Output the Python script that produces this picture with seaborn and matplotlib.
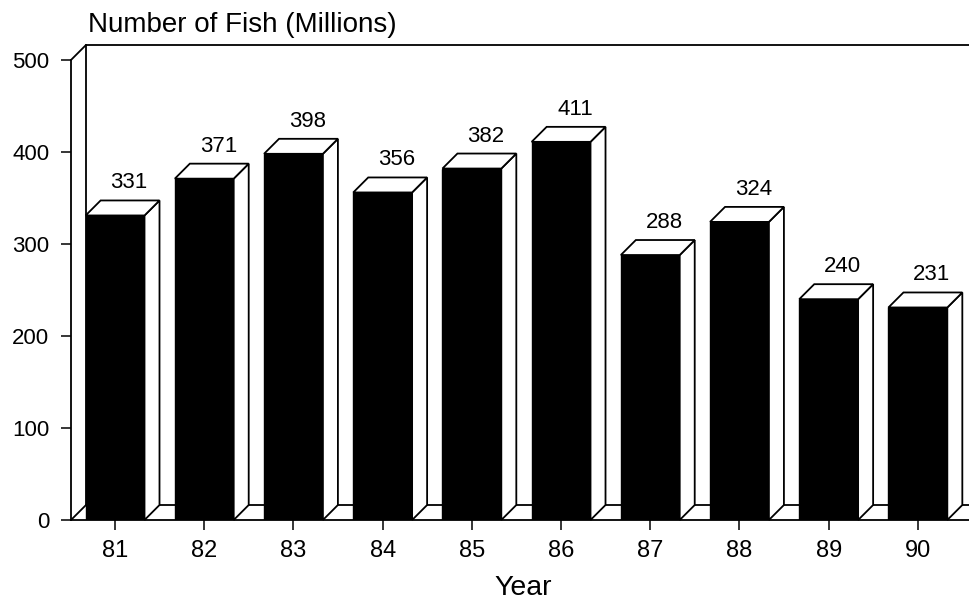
import matplotlib
matplotlib.use("Agg")
import matplotlib.pyplot as plt
from matplotlib.patches import Polygon
import seaborn as sns
import pandas as pd

years = ["81", "82", "83", "84", "85", "86", "87", "88", "89", "90"]
fish = [331, 371, 398, 356, 382, 411, 288, 324, 240, 231]
y_ticks = [0, 100, 200, 300, 400, 500]
title = "Number of Fish (Millions)"
xlabel = "Year"

sns.set_theme(style="white")
plt.rcParams["font.family"] = ["Liberation Sans", "DejaVu Sans"]
plt.rcParams["text.color"] = "black"
plt.rcParams["xtick.color"] = "black"
plt.rcParams["ytick.color"] = "black"
plt.rcParams["axes.labelcolor"] = "black"

W, H, DPI = 969, 600, 100
fig = plt.figure(figsize=(W / DPI, H / DPI), dpi=DPI)
fig.patch.set_facecolor("white")

# axes placement in pixels
left_px, right_px, base_px, top_px = 71, 969, 520, 40
ax = fig.add_axes([left_px / W, (H - base_px) / H,
                   (right_px - left_px) / W, (base_px - top_px) / H])
ax.set_facecolor("white")

df = pd.DataFrame({"year": years, "fish": fish})
bw = 0.66
sns.barplot(data=df, x="year", y="fish", color="black", saturation=1,
            width=bw, edgecolor="black", linewidth=1.0, ax=ax, zorder=3)

xl, xr = -0.494, 9.573
ymax = 521.7
ax.set_xlim(xl, xr)
ax.set_ylim(0, ymax)

# depth of 3D effect in data units (~15 px)
px_x = (right_px - left_px) / (xr - xl)
px_y = (base_px - top_px) / ymax
dx = 15 / px_x
dy = 15 / px_y
top = y_ticks[-1]
lw = 1.3

# back wall / floor frame
ax.plot([xl + dx, xr], [top + dy, top + dy], color="black", lw=lw, zorder=1, clip_on=False)
ax.plot([xl + dx, xl + dx], [dy, top + dy], color="black", lw=lw, zorder=1, clip_on=False)
ax.plot([xl + dx, xr], [dy, dy], color="black", lw=lw, zorder=1, clip_on=False)
ax.plot([xl, xl + dx], [0, dy], color="black", lw=lw, zorder=1, clip_on=False)
ax.plot([xl, xl + dx], [top, top + dy], color="black", lw=lw, zorder=1, clip_on=False)

# 3D side and top faces of each bar
for i, v in enumerate(fish):
    x0, x1 = i - bw / 2, i + bw / 2
    side = Polygon([(x1, 0), (x1 + dx, dy), (x1 + dx, v + dy), (x1, v)],
                   closed=True, facecolor="white", edgecolor="black",
                   lw=lw, zorder=4, clip_on=False)
    topf = Polygon([(x0, v), (x0 + dx, v + dy), (x1 + dx, v + dy), (x1, v)],
                   closed=True, facecolor="white", edgecolor="black",
                   lw=lw, zorder=4, clip_on=False)
    ax.add_patch(side)
    ax.add_patch(topf)
    ax.text(i + 14 / px_x, v + dy + 12 / px_y, str(v), ha="center",
            va="baseline", fontsize=16, color="black", zorder=5)

# spines and ticks
for s in ["top", "right"]:
    ax.spines[s].set_visible(False)
ax.spines["left"].set_bounds(0, top)
ax.spines["left"].set_color("black")
ax.spines["bottom"].set_color("black")
ax.spines["left"].set_linewidth(lw)
ax.spines["bottom"].set_linewidth(lw)
ax.spines["left"].set_zorder(6)
ax.spines["bottom"].set_zorder(6)

ax.set_yticks(y_ticks)
ax.set_yticklabels([str(t) for t in y_ticks])
ax.tick_params(axis="y", direction="out", length=7.5, width=1.1, color="black",
               pad=8, labelsize=16, labelcolor="black", left=True)
ax.tick_params(axis="x", direction="out", length=7.5, width=1.1, color="black",
               pad=7, labelsize=17, labelcolor="black", bottom=True)
ax.set_xlabel("")
ax.set_ylabel("")

fig.text(88 / W, (H - 32) / H, title, fontsize=20, color="black",
         ha="left", va="baseline")
fig.text(523 / W, (H - 595) / H, xlabel, fontsize=20.5, color="black",
         ha="center", va="baseline")

fig.savefig("out.png", dpi=DPI, facecolor="white")
